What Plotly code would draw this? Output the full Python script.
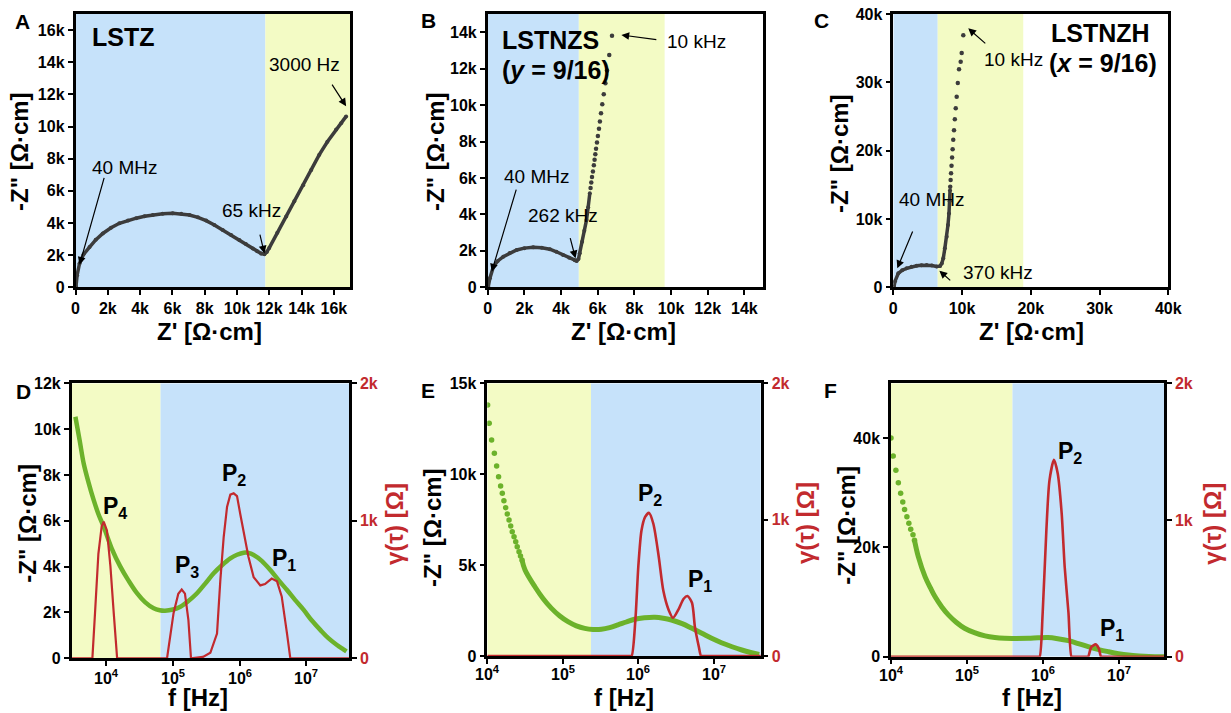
import plotly.graph_objects as go

# ---------------- DATA ----------------
# Panel A: LSTZ Nyquist (Z' , -Z'') in Ohm*cm
lstz_zre = [30, 100, 250, 500, 870, 1250, 1690, 2200, 2720, 3250, 3760, 4280, 4790, 5400,
            6020, 6550, 7060, 7580, 8090, 8600, 9120, 9640, 10150, 10550, 10980, 11250,
            11500, 11700, 11850, 12000, 12500, 13050, 13550, 14100, 14600, 15100, 15600,
            16140, 16450, 16760]
lstz_zim = [50, 750, 1480, 2050, 2500, 2950, 3350, 3700, 3980, 4150, 4300, 4420, 4500, 4570,
            4600, 4570, 4500, 4350, 4150, 3880, 3560, 3260, 2940, 2700, 2420, 2250,
            2100, 2060, 2200, 2450, 3400, 4400, 5350, 6350, 7300, 8250, 9050,
            9810, 10200, 10630]

# Panel B: LSTNZS (y = 9/16) Nyquist
lstnzs_zre_dense = [30, 120, 310, 550, 850, 1200, 1580, 2000, 2480, 2950, 3390, 3750, 4110,
                    4450, 4750, 4850, 4950, 5020, 5150, 5270, 5390, 5480, 5570]
lstnzs_zim_dense = [30, 500, 1130, 1450, 1680, 1880, 2050, 2150, 2200, 2170, 2090, 1950, 1770,
                    1620, 1480, 1450, 1550, 1870, 2500, 3100, 3700, 4400, 5160]
lstnzs_zre_sparse = [5610, 5650, 5690, 5740, 5790, 5830, 5870, 5910, 5960, 6010, 6070, 6120,
                     6180, 6250, 6330, 6420, 6510, 6630, 6780]
lstnzs_zim_sparse = [5450, 5750, 6050, 6350, 6700, 7000, 7300, 7600, 7950, 8300, 8700, 9100,
                     9550, 10050, 10600, 11200, 11900, 12750, 13800]

# Panel C: LSTNZH (x = 9/16) Nyquist
lstnzh_zre_dense = [100, 250, 730, 1300, 1950, 2650, 3400, 4100, 4860, 5600, 6300, 6800, 7050,
                    7270, 7500, 7770, 7950, 8100, 8200, 8250]
lstnzh_zim_dense = [90, 900, 2050, 2500, 2780, 3000, 3160, 3240, 3270, 3200, 3050, 3100, 3500,
                    4250, 5700, 7400, 9100, 10800, 12600, 14200]
lstnzh_zre_sparse = [8280, 8340, 8400, 8470, 8550, 8630, 8720, 8830, 8950, 9080, 9220, 9380,
                     9560, 9800, 9950, 10180]
lstnzh_zim_sparse = [14700, 15700, 16700, 17800, 19000, 20200, 21600, 23000, 24600, 26200,
                     27900, 29900, 31900, 33000, 34300, 36900]

# Panel D: LSTZ -Z'' vs f, and DRT gamma(tau)
d_freq = [3430, 3980, 4570, 5370, 6460, 7590, 9120, 12000, 16200, 21400, 28800, 38000, 51300,
          63100, 75900, 100000, 129000, 170000, 229000, 302000, 407000, 537000, 724000,
          912000, 1150000, 1350000, 1620000, 2140000, 2880000, 3800000, 5130000, 6760000,
          9120000, 12000000, 16200000, 21400000, 28800000, 35500000, 40000000]
d_zim = [10540, 9500, 8500, 7700, 6900, 6300, 5740, 4800, 4000, 3400, 2840, 2450, 2180,
         2100, 2080, 2130, 2250, 2500, 2840, 3250, 3710, 4050, 4360,
         4520, 4610, 4600, 4510, 4250, 3850, 3420, 2980, 2550,
         2110, 1660, 1240, 880, 580, 400, 300]
d_gfreq = [3000, 6170, 6760, 7590, 8510, 9120, 10200, 11500, 12900, 14500, 81300, 102000,
           120000, 135000, 151000, 170000, 186000, 224000, 282000, 363000, 457000, 513000,
           575000, 646000, 724000, 813000, 912000, 1020000, 1150000, 1350000, 1620000,
           2040000, 2400000, 3020000, 3630000, 4270000, 5130000, 5750000, 44000000]
d_gamma = [0, 0, 330, 760, 960, 993, 930, 670, 330, 0, 0, 330,
           470, 500, 470, 280, 0, 5, 10, 40, 180, 570,
           880, 1100, 1190, 1200, 1180, 1050, 910, 740, 590,
           530, 540, 580, 560, 450, 180, 0, 0]

# Panel E: LSTNZS -Z'' vs f, gamma
e_freq_sparse = [10100, 10600, 11400, 12400, 13300, 14100, 15000, 15800, 16600, 17500, 18400,
                 19400, 20400, 21400, 22600, 23800, 24900, 26300, 27500, 28800]
e_zim_sparse = [13800, 12800, 11880, 11150, 10450, 9860, 9350, 8950, 8540, 8160, 7810,
                7480, 7150, 6840, 6560, 6290, 6010, 5740, 5500, 5280]
e_freq_dense = [28800, 31600, 42700, 55000, 70800, 91200, 117000, 151000, 195000, 251000,
                324000, 417000, 537000, 692000, 891000, 1200000, 1660000, 2140000, 2750000,
                3800000, 5130000, 6920000, 9330000, 12600000, 17400000, 23400000, 31600000,
                39800000]
e_zim_dense = [5280, 4730, 3810, 3150, 2620, 2200, 1890, 1660, 1520, 1460,
               1470, 1560, 1710, 1870, 2020, 2100, 2130, 2080, 1980,
               1780, 1520, 1250, 970, 730, 510, 330, 180, 80]
e_gfreq = [10000, 760000, 813000, 912000, 1000000, 1100000, 1230000, 1380000, 1580000, 1860000,
           2140000, 2510000, 2880000, 3390000, 3980000, 4470000, 5130000, 5620000, 6310000,
           6760000, 7200000, 42000000]
e_gamma = [0, 0, 0, 260, 660, 920, 1020, 1050, 970, 730,
           480, 340, 280, 340, 420, 440, 390, 210, 70,
           0, 0, 0]

# Panel F: LSTNZH -Z'' vs f, gamma
f_freq_sparse = [10000, 10700, 11600, 12500, 13400, 14300, 15100, 16200, 17200, 18200, 19500, 20400]
f_zim_sparse = [40000, 36700, 34100, 31800, 29900, 28300, 26900, 25600, 24400, 23300, 22300, 21300]
f_freq_dense = [20400, 22900, 28200, 33100, 38000, 46800, 57500, 72400, 93300, 126000, 174000,
                234000, 316000, 447000, 646000, 871000, 1170000, 1580000, 2190000, 2950000,
                3980000, 5500000, 7410000, 10000000, 13500000, 18600000, 25100000, 39800000]
f_zim_dense = [21300, 18300, 14600, 12600, 11000, 9100, 7600, 6300, 5200, 4400, 3800,
               3500, 3360, 3330, 3360, 3450, 3500, 3300, 2930, 2400,
               1830, 1300, 910, 560, 300, 140, 50, 0]
f_gfreq = [10000, 870000, 912000, 1000000, 1120000, 1230000, 1410000, 1580000, 1780000, 1950000,
           2190000, 2400000, 2510000, 3800000, 3980000, 4370000, 5010000, 5500000, 5890000,
           6200000, 42000000]
f_gamma = [0, 0, 0, 320, 930, 1290, 1440, 1340, 1050, 660,
           320, 0, 0, 0, 0, 70, 90, 60, 0,
           0, 0]

# shaded regions
a_blue = [0, 11760]; a_yellow = [11760, 17000]
b_blue = [0, 4970]; b_yellow = [4970, 9650]
c_blue = [0, 6460]; c_yellow = [6460, 18900]
d_yellow = [3000, 65000]; d_blue = [65000, 44000000]
e_yellow = [10000, 236000]; e_blue = [236000, 42000000]
f_yellow = [10000, 400000]; f_blue = [400000, 40000000]

# frequency tick labels
dec_vals = [1e4, 1e5, 1e6, 1e7]
dec_logs = [4, 5, 6, 7]
dec_text = ["10<sup>4</sup>", "10<sup>5</sup>", "10<sup>6</sup>", "10<sup>7</sup>"]

# ---------------- STYLE ----------------
FONT = "Liberation Sans, Arial, sans-serif"
BLUE = "#c6e2fa"
YELLOW = "#f3fbc5"
GREEN = "#6cb22b"
RED = "#c22a2e"
DARK = "#3c3c3c"
W, H = 1231, 713

def px(x):
    return x / W

def py(y):
    return 1 - y / H

fig = go.Figure()

def band(xr, top, color, xa, ya):
    fig.add_trace(go.Scatter(x=[xr[0], xr[1], xr[1], xr[0], xr[0]], y=[0, 0, top, top, 0],
                             mode="lines", fill="toself", fillcolor=color,
                             line=dict(width=0, color=color), hoverinfo="skip",
                             xaxis=xa, yaxis=ya))

band(d_yellow, 12000, YELLOW, "x4", "y4")
band(d_blue, 12000, BLUE, "x4", "y4")
band(e_yellow, 15000, YELLOW, "x5", "y5")
band(e_blue, 15000, BLUE, "x5", "y5")
band(f_yellow, 50000, YELLOW, "x6", "y6")
band(f_blue, 50000, BLUE, "x6", "y6")

# Nyquist traces
fig.add_trace(go.Scatter(x=lstz_zre, y=lstz_zim, mode="lines+markers",
                         line=dict(color=DARK, width=3.5), marker=dict(size=4, color=DARK),
                         xaxis="x", yaxis="y"))
fig.add_trace(go.Scatter(x=lstnzs_zre_dense, y=lstnzs_zim_dense, mode="lines+markers",
                         line=dict(color=DARK, width=3.5), marker=dict(size=4, color=DARK),
                         xaxis="x2", yaxis="y2"))
fig.add_trace(go.Scatter(x=lstnzs_zre_sparse, y=lstnzs_zim_sparse, mode="markers",
                         marker=dict(size=4.5, color=DARK), xaxis="x2", yaxis="y2"))
fig.add_trace(go.Scatter(x=lstnzh_zre_dense, y=lstnzh_zim_dense, mode="lines+markers",
                         line=dict(color=DARK, width=3.5), marker=dict(size=4, color=DARK),
                         xaxis="x3", yaxis="y3"))
fig.add_trace(go.Scatter(x=lstnzh_zre_sparse, y=lstnzh_zim_sparse, mode="markers",
                         marker=dict(size=4.5, color=DARK), xaxis="x3", yaxis="y3"))

# Bode / DRT traces
fig.add_trace(go.Scatter(x=d_freq, y=d_zim, mode="lines",
                         line=dict(color=GREEN, width=4.5, shape="spline"),
                         xaxis="x4", yaxis="y4"))
fig.add_trace(go.Scatter(x=d_gfreq, y=d_gamma, mode="lines", line=dict(color=RED, width=2.2),
                         xaxis="x4", yaxis="y7"))
fig.add_trace(go.Scatter(x=e_freq_sparse, y=e_zim_sparse, mode="markers",
                         marker=dict(size=5.5, color=GREEN), xaxis="x5", yaxis="y5"))
fig.add_trace(go.Scatter(x=e_freq_dense, y=e_zim_dense, mode="lines",
                         line=dict(color=GREEN, width=5, shape="spline"),
                         xaxis="x5", yaxis="y5"))
fig.add_trace(go.Scatter(x=e_gfreq, y=e_gamma, mode="lines",
                         line=dict(color=RED, width=2.6, shape="spline", smoothing=0.7),
                         xaxis="x5", yaxis="y8"))
fig.add_trace(go.Scatter(x=f_freq_sparse, y=f_zim_sparse, mode="markers",
                         marker=dict(size=5.5, color=GREEN), xaxis="x6", yaxis="y6"))
fig.add_trace(go.Scatter(x=f_freq_dense, y=f_zim_dense, mode="lines",
                         line=dict(color=GREEN, width=5, shape="spline"),
                         xaxis="x6", yaxis="y6"))
fig.add_trace(go.Scatter(x=f_gfreq, y=f_gamma, mode="lines",
                         line=dict(color=RED, width=2.6, shape="spline", smoothing=0.7),
                         xaxis="x6", yaxis="y9"))

tickfont = dict(family=FONT, size=16, color="black", weight="bold")
redtick = dict(family=FONT, size=16, color=RED, weight="bold")
base = dict(showline=True, linecolor="black", linewidth=2.5, mirror=True, ticks="outside",
            ticklen=5, tickwidth=2, tickcolor="black", showgrid=False, zeroline=False,
            tickfont=tickfont, automargin=False)

def kt(vals):
    return [("0" if v == 0 else f"{int(v/1000)}k") for v in vals]

top_y = [py(287.3), py(14)]
a_ticks = [0, 2000, 4000, 6000, 8000, 10000, 12000, 14000, 16000]
b_ticks = [0, 2000, 4000, 6000, 8000, 10000, 12000, 14000]
c_ticks = [0, 10000, 20000, 30000, 40000]

layout = dict(
    width=W, height=H, margin=dict(l=0, r=0, t=0, b=0, pad=0, autoexpand=False),
    autosize=False,
    paper_bgcolor="white", plot_bgcolor="white", showlegend=False,
    font=dict(family=FONT, color="black"),
    xaxis=dict(base, domain=[px(75.5), px(350)], range=[0, 17000], anchor="y",
               tickvals=a_ticks, ticktext=kt(a_ticks)),
    yaxis=dict(base, domain=top_y, range=[0, 17000], anchor="x",
               tickvals=a_ticks, ticktext=kt(a_ticks)),
    xaxis2=dict(base, domain=[px(487.7), px(762.7)], range=[0, 15000], anchor="y2",
                tickvals=b_ticks, ticktext=kt(b_ticks)),
    yaxis2=dict(base, domain=top_y, range=[0, 15000], anchor="x2",
                tickvals=b_ticks, ticktext=kt(b_ticks)),
    xaxis3=dict(base, domain=[px(893.3), px(1168.3)], range=[0, 40000], anchor="y3",
                tickvals=c_ticks, ticktext=kt(c_ticks)),
    yaxis3=dict(base, domain=top_y, range=[0, 40000], anchor="x3",
                tickvals=c_ticks, ticktext=kt(c_ticks)),
)

d_ticks = [0, 2000, 4000, 6000, 8000, 10000, 12000]
e_ticks = [0, 5000, 10000, 15000]
f_ticks = [0, 20000, 40000]
g_ticks = [0, 1000, 2000]

bottom = [
    ("4", "7", [71.7, 349], [658.3, 383.3], [3.48, 7.64], [0, 12000], d_ticks),
    ("5", "8", [487.3, 760.7], [656, 383.3], [4.0, 7.62], [0, 15000], e_ticks),
    ("6", "9", [891, 1164], [656.7, 383.3], [4.0, 7.60], [0, 50000], f_ticks),
]
for xi, yr, xd, yd, xr, yrange, yt in bottom:
    layout["xaxis" + xi] = dict(base, type="log", domain=[px(xd[0]), px(xd[1])], range=xr,
                                anchor="y" + xi, tickvals=dec_vals, showticklabels=False)
    layout["yaxis" + xi] = dict(base, domain=[py(yd[0]), py(yd[1])], range=yrange,
                                anchor="x" + xi, tickvals=yt, ticktext=kt(yt))
    layout["yaxis" + yr] = dict(base, overlaying="y" + xi, side="right", anchor="x" + xi,
                                range=[0, 2000], tickvals=g_ticks, ticktext=kt(g_ticks),
                                tickfont=redtick, mirror=False)

fig.update_layout(**layout)

# shaded regions for Nyquist panels
shapes = []
def rect(xref, yref, x0, x1, color):
    shapes.append(dict(type="rect", xref=xref, yref=yref + " domain", x0=x0, x1=x1, y0=0, y1=1,
                       fillcolor=color, line=dict(width=0), layer="below"))

rect("x", "y", a_blue[0], a_blue[1], BLUE)
rect("x", "y", a_yellow[0], a_yellow[1], YELLOW)
rect("x2", "y2", b_blue[0], b_blue[1], BLUE)
rect("x2", "y2", b_yellow[0], b_yellow[1], YELLOW)
rect("x3", "y3", c_blue[0], c_blue[1], BLUE)
rect("x3", "y3", c_yellow[0], c_yellow[1], YELLOW)
fig.update_layout(shapes=shapes)

ann = []
def txt(text, x, y, xref, yref, size=19, bold=False, color="black", xanchor="center",
        angle=0):
    ann.append(dict(text=text, x=x, y=y, xref=xref, yref=yref, showarrow=False,
                    xanchor=xanchor, yanchor="middle", textangle=angle,
                    font=dict(family=FONT, size=size, color=color,
                              weight="bold" if bold else "normal")))

def arrow(x, y, ax, ay, xr, yr):
    ann.append(dict(text="", x=x, y=y, ax=ax, ay=ay, xref=xr, yref=yr, axref=xr, ayref=yr,
                    showarrow=True, arrowhead=2, arrowsize=1.3, arrowwidth=1.2,
                    arrowcolor="black"))

# frequency tick labels (log axis annotation x = log10 f)
for xa, ylab in [("x4", 677), ("x5", 673), ("x6", 674)]:
    for lg, t in zip(dec_logs, dec_text):
        txt(t, lg, py(ylab), xa, "paper", size=16, bold=True)

# panel letters
for letter, (lx, ly) in zip("ABCDEF", [(22.5, 21.7), (428.3, 20.8), (821.7, 20.8),
                                       (23.3, 391.7), (427.5, 390), (830, 390)]):
    txt(letter, px(lx), py(ly), "paper", "paper", size=21, bold=True)

# axis titles
ZT = "-Z\" [Ω·cm]"
for (tx, ty) in [(19, 152), (435, 152), (839, 153), (26.7, 523), (432, 527), (845.7, 525)]:
    txt(ZT, px(tx), py(ty), "paper", "paper", size=24, bold=True, angle=-90)
for (tx, ty) in [(209, 331.7), (623.3, 331.7), (1031.7, 331.7)]:
    txt("Z' [Ω·cm]", px(tx), py(ty), "paper", "paper", size=24, bold=True)
for (tx, ty) in [(198.3, 697), (624, 697), (1031.7, 697)]:
    txt("f [Hz]", px(tx), py(ty), "paper", "paper", size=24, bold=True)
for (tx, ty) in [(394, 524), (805, 523), (1211.7, 524)]:
    txt("γ(τ) [Ω]", px(tx), py(ty), "paper", "paper", size=24, bold=True, color=RED, angle=-90)

# Panel A labels
txt("LSTZ", 900, 15600, "x", "y", size=25, bold=True, xanchor="left")
txt("40 MHz", 3030, 7440, "x", "y")
arrow(250, 1400, 1800, 6900, "x", "y")
txt("65 kHz", 10900, 4780, "x", "y")
arrow(11700, 2100, 11400, 3370, "x", "y")
txt("3000 Hz", 14200, 13860, "x", "y")
arrow(16760, 11260, 15830, 12700, "x", "y")

# Panel B labels
txt("LSTNZS", 670, 13600, "x2", "y2", size=25, bold=True, xanchor="left")
txt("(<i>y</i> = 9/16)", 670, 11900, "x2", "y2", size=25, bold=True, xanchor="left")
txt("10 kHz", 11370, 13500, "x2", "y2")
arrow(7290, 13850, 9280, 13580, "x2", "y2")
txt("40 MHz", 2670, 6070, "x2", "y2")
arrow(220, 860, 1580, 5440, "x2", "y2")
txt("262 kHz", 4110, 3920, "x2", "y2")
arrow(4790, 1590, 4480, 2780, "x2", "y2")

# Panel C labels
txt("LSTNZH", 30070, 37200, "x3", "y3", size=25, bold=True)
txt("(<i>x</i> = 9/16)", 30500, 32800, "x3", "y3", size=25, bold=True)
txt("10 kHz", 17450, 33300, "x3", "y3")
arrow(10900, 37900, 13600, 35500, "x3", "y3")
txt("40 MHz", 5580, 12800, "x3", "y3")
arrow(580, 2780, 2900, 8400, "x3", "y3")
txt("370 kHz", 15300, 2140, "x3", "y3")
arrow(6700, 2430, 8500, 820, "x3", "y3")

# Peak labels (annotation x on log axes is log10 of the frequency)
def P(n):
    return f"P<sub>{n}</sub>"
txt(P(4), 4.135, 6600, "x4", "y4", size=23, bold=True)
txt(P(3), 5.21, 4000, "x4", "y4", size=23, bold=True)
txt(P(2), 5.91, 8000, "x4", "y4", size=23, bold=True)
txt(P(1), 6.66, 4290, "x4", "y4", size=23, bold=True)
txt(P(2), 6.155, 8860, "x5", "y5", size=23, bold=True)
txt(P(1), 6.82, 4180, "x5", "y5", size=23, bold=True)
txt(P(2), 6.36, 37300, "x6", "y6", size=23, bold=True)
txt(P(1), 6.92, 4900, "x6", "y6", size=23, bold=True)

fig.update_layout(annotations=ann)
fig.write_html("out.html")
